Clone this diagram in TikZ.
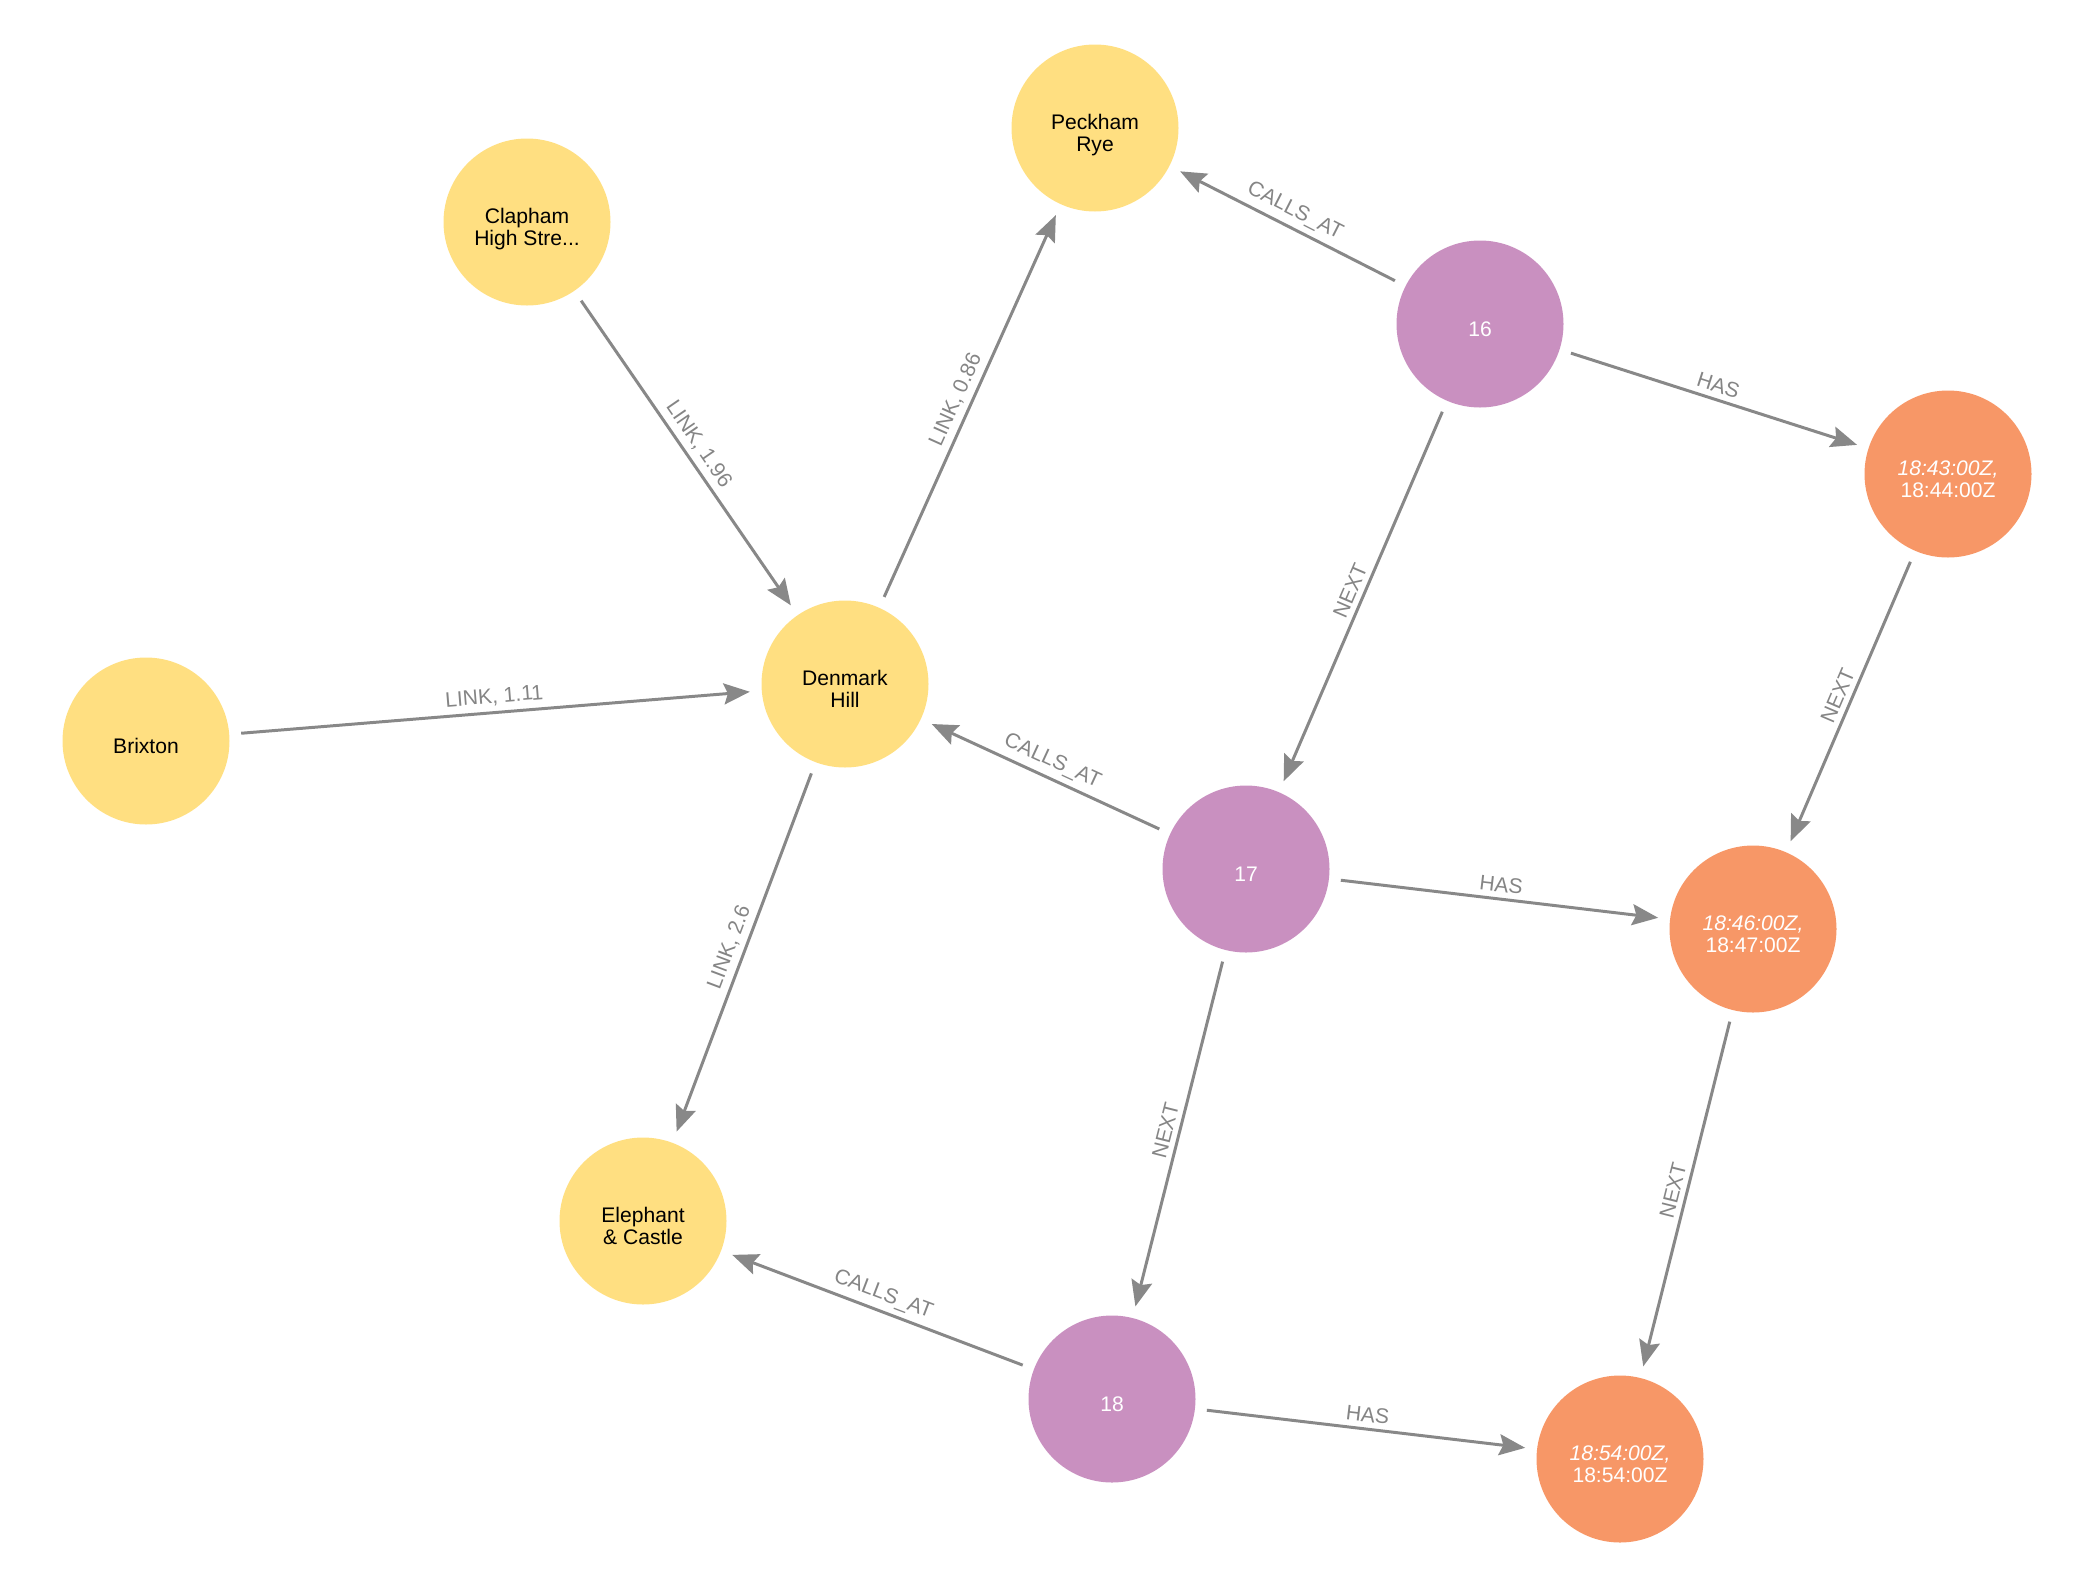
\documentclass[tikz,border=0pt]{standalone}
\usepackage{fontspec}
\setmainfont{Liberation Sans}
\usepackage{xcolor}
\usepackage{tikz}
\usetikzlibrary{
    arrows.meta,
}
\definecolor{stationyellow}{HTML}{FFDF81}
\definecolor{callpurple}{HTML}{C990C0}
\definecolor{timeorange}{HTML}{F79767}
\definecolor{relgray}{HTML}{888888}
\definecolor{labelgray}{HTML}{858585}
\tikzset{
    % Basic node styles
    graph node/.style={circle, minimum size=1.67cm, inner sep=0pt, outer sep=0.12cm,
                       align=center, font=\fontsize{6}{6.2}\selectfont,
                       text height=13.3pt, text depth=0pt},
    one line/.style={text height=7.2pt},
    station node/.style={graph node, fill=stationyellow, text=black},
    call node/.style={graph node, one line, fill=callpurple, text=white},
    time node/.style={graph node, fill=timeorange, text=white},
    % Arrow styles
    rel/.style={-{Stealth[length=2.6mm, width=2.1mm, inset=0.4mm]}, line width=0.85pt, relgray},
    % Annotation styles
    rel label/.style={sloped, above, inner sep=1.5pt, text=labelgray,
                      font=\fontsize{6}{6.2}\selectfont},
}
\newcommand{\slot}[2]{\textit{#1,}\\#2}

\begin{document}
\begin{tikzpicture}
    \useasboundingbox (0, 0) rectangle (20.75, -15.93);

    % Stations
    \node[station node] (peckham)  at (10.95, -1.28)  {Peckham\\Rye};
    \node[station node] (clapham)  at (5.27, -2.22)   {Clapham\\High Stre...};
    \node[station node] (denmark)  at (8.45, -6.84)   {Denmark\\Hill};
    \node[station node, one line] (brixton) at (1.46, -7.41) {Brixton};
    \node[station node] (elephant) at (6.43, -12.21)  {Elephant\\\& Castle};

    % Calling points
    \node[call node] (c16) at (14.80, -3.24)  {16};
    \node[call node] (c17) at (12.46, -8.69)  {17};
    \node[call node] (c18) at (11.12, -13.99) {18};

    % Timetable slots
    \node[time node] (t1) at (19.48, -4.74)  {\slot{18:43:00Z}{18:44:00Z}};
    \node[time node] (t2) at (17.53, -9.29)  {\slot{18:46:00Z}{18:47:00Z}};
    \node[time node] (t3) at (16.20, -14.59) {\slot{18:54:00Z}{18:54:00Z}};

    % Links between stations
    \draw[rel] (clapham) -- node[rel label] {LINK, 1.96} (denmark);
    \draw[rel] (denmark) -- node[rel label] {LINK, 0.86} (peckham);
    \draw[rel] (brixton) -- node[rel label] {LINK, 1.11} (denmark);
    \draw[rel] (denmark) -- node[rel label] {LINK, 2.6} (elephant);

    % Calls
    \draw[rel] (c16) -- node[rel label] {CALLS\_AT} (peckham);
    \draw[rel] (c17) -- node[rel label] {CALLS\_AT} (denmark);
    \draw[rel] (c18) -- node[rel label] {CALLS\_AT} (elephant);

    % Slots
    \draw[rel] (c16) -- node[rel label] {HAS} (t1);
    \draw[rel] (c17) -- node[rel label] {HAS} (t2);
    \draw[rel] (c18) -- node[rel label] {HAS} (t3);

    % Sequence
    \draw[rel] (c16) -- node[rel label] {NEXT} (c17);
    \draw[rel] (c17) -- node[rel label] {NEXT} (c18);
    \draw[rel] (t1) -- node[rel label] {NEXT} (t2);
    \draw[rel] (t2) -- node[rel label] {NEXT} (t3);
\end{tikzpicture}
\end{document}
